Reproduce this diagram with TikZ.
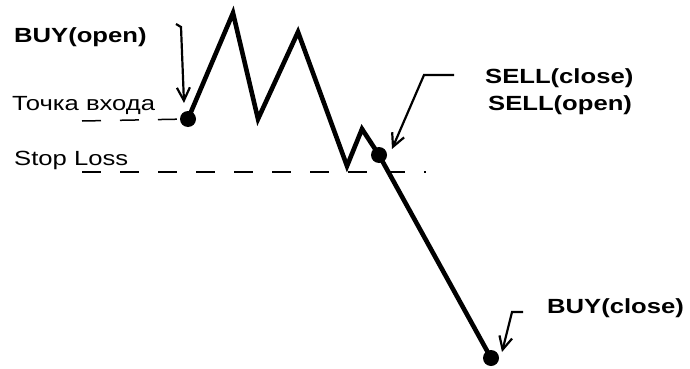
\documentclass[tikz,border=0pt]{standalone}
\usepackage{fontspec}
\setmainfont{Liberation Sans}
\usetikzlibrary{arrows.meta}
\tikzset{
  lbl/.style={inner sep=0pt, font=\fontsize{20.5}{22}\selectfont},
  blbl/.style={inner sep=0pt, font=\fontsize{20.5}{22}\selectfont\bfseries},
  price/.style={line width=4.6pt, line join=miter, line cap=round},
  dot/.style={circle, fill=black, minimum size=16pt, inner sep=0pt},
  level/.style={line width=1.5pt, dash pattern=on 19pt off 19pt},
  pointer/.style={line width=2.2pt, -{Straight Barb[length=13pt,width=13pt,line width=2.2pt]}},
}
\newcommand{\wide}[1]{\scalebox{1.25}[1]{#1}}
\begin{document}
\begin{tikzpicture}[x=1pt,y=-1pt]
\useasboundingbox (0,0) rectangle (690,369);
% price path
\node[dot] (d1) at (188,119) {};
\coordinate (p1) at (233,13);
\coordinate (p2) at (258,119);
\coordinate (p3) at (298,32);
\coordinate (p4) at (347,166);
\coordinate (p5) at (362,129);
\node[dot] (d2) at (379,155) {};
\node[dot] (d3) at (491,358) {};
\draw[price] (d1.center) -- (p1) -- (p2) -- (p3) -- (p4) -- (p5) -- (d2.center) -- (d3.center);
% levels
\coordinate (l1a) at (82,121);
\coordinate (l2a) at (82,172);
\coordinate (l2b) at (426,172);
\draw[level] (l1a) -- (d1.center);
\draw[level] (l2a) -- (l2b);
% labels
\node[blbl, anchor=base west] (buyopen) at (14,42) {\wide{BUY(open)}};
\node[lbl, anchor=base west] (entry) at (12,110) {\wide{Точка входа}};
\node[lbl, anchor=base west] (sl) at (14,165) {\wide{Stop Loss}};
\node[blbl, anchor=base west] (sellclose) at (485,83) {\wide{SELL(close)}};
\node[blbl, anchor=base west] (sellopen) at (488,110) {\wide{SELL(open)}};
\node[blbl, anchor=base west] (buyclose) at (547,313) {\wide{BUY(close)}};
% pointers
\coordinate (a1s) at (176,24);
\coordinate (a1m) at (181,27);
\coordinate (a1e) at (184,103);
\draw[pointer] (a1s) -- (a1m) -- (a1e);
\coordinate (a2s) at (454,75);
\coordinate (a2m) at (424,75);
\coordinate (a2e) at (392,149);
\draw[pointer] (a2s) -- (a2m) -- (a2e);
\coordinate (a3s) at (523,312);
\coordinate (a3m) at (512,312);
\coordinate (a3e) at (502,352);
\draw[pointer] (a3s) -- (a3m) -- (a3e);
\end{tikzpicture}
\end{document}
